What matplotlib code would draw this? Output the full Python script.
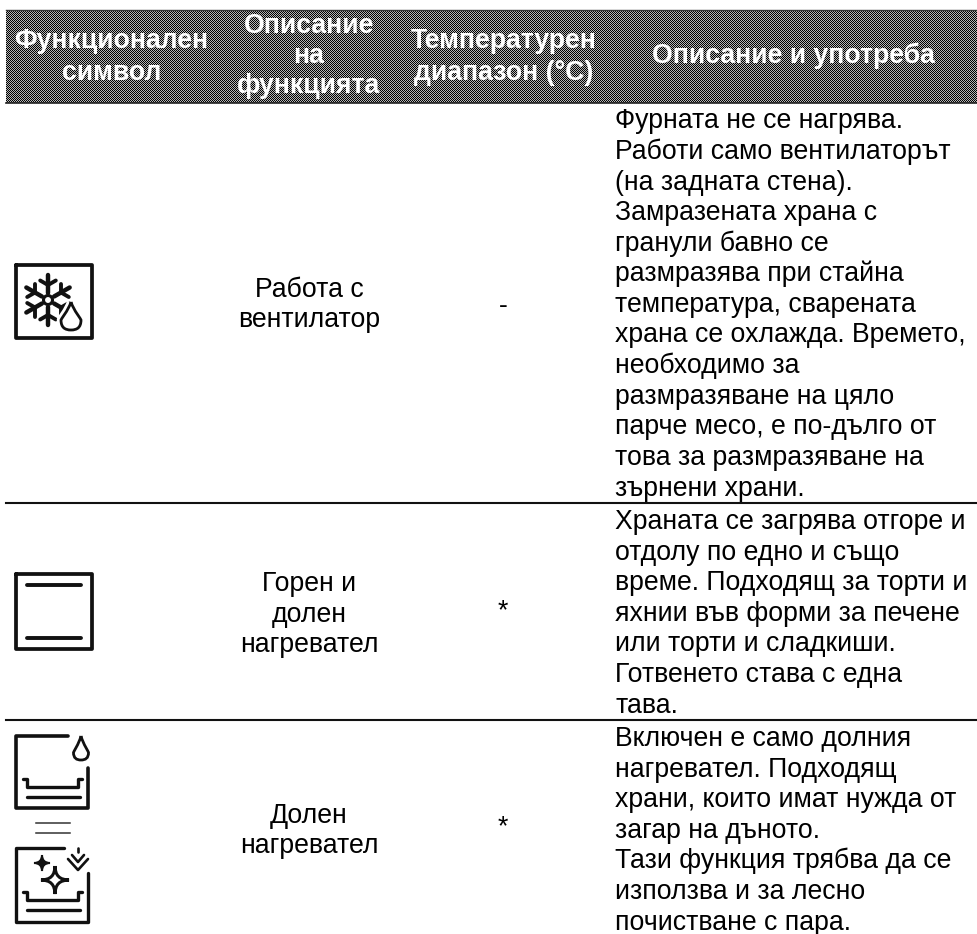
import matplotlib
matplotlib.use('Agg')
import matplotlib.pyplot as plt
from matplotlib.path import Path
from matplotlib.patches import PathPatch, Circle
import numpy as np

plt.rcParams['font.family'] = ['Liberation Sans', 'DejaVu Sans']

# table text
headers = [['Функционален', 'символ'],
           ['Описание', 'на', 'функцията'],
           ['Температурен', 'диапазон (°C)'],
           ['Описание и употреба']]
functions = [['Работа с', 'вентилатор'],
             ['Горен и', 'долен', 'нагревател'],
             ['Долен', 'нагревател']]
temps = ['-', '*', '*']
descriptions = [
    ['Фурната не се нагрява.', 'Работи само вентилаторът', '(на задната стена).',
     'Замразената храна с', 'гранули бавно се', 'размразява при стайна',
     'температура, сварената', 'храна се охлажда. Времето,', 'необходимо за',
     'размразяване на цяло', 'парче месо, е по-дълго от', 'това за размразяване на',
     'зърнени храни.'],
    ['Храната се загрява отгоре и', 'отдолу по едно и също', 'време. Подходящ за торти и',
     'яхнии във форми за печене', 'или торти и сладкиши.', 'Готвенето става с една', 'тава.'],
    ['Включен е само долния', 'нагревател. Подходящ', 'храни, които имат нужда от',
     'загар на дъното.', 'Тази функция трябва да се', 'използва и за лесно',
     'почистване с пара.'],
]

W, H = 978, 934
FS = 19.2
header_x = [111.5, 309, 504, 793.5]
header_y = [[48, 80], [33, 63, 93], [48, 80], [63]]
func_x = 309
func_y = [[297, 327], [591, 622, 652], [823, 853]]
temp_x = 503
temp_y = [313, 618, 834]
desc_x = 615
desc_y = [128.3, 529, 746]
line_h = 30.6
rule_y = [503, 720]

fig = plt.figure(figsize=(W / 100, H / 100), dpi=100)
ax = fig.add_axes([0, 0, 1, 1])

# header band: 1px halftone of the dark fill
yy, xx = np.mgrid[0:93, 0:972]
checker = ((xx + yy) % 2).astype(float)
ax.imshow(checker, cmap='gray', vmin=0, vmax=1.4, extent=[6, 978, 103, 10],
          interpolation='nearest', aspect='auto', zorder=1)
ax.set_xlim(0, W)
ax.set_ylim(H, 0)
ax.axis('off')
ax.plot([6, 978], [9.5, 9.5], color='#333333', lw=1, zorder=2)
ax.plot([6, 978], [103, 103], color='#222222', lw=1.2, zorder=2)

for x, lines, ys in zip(header_x, headers, header_y):
    for s, y in zip(lines, ys):
        ax.text(x, y, s, color='white', fontsize=FS, fontweight='bold',
                ha='center', va='baseline', zorder=3)

for y in rule_y:
    ax.plot([6, 978], [y, y], color='#111111', lw=1.5, zorder=2)

for r in range(3):
    for s, y in zip(functions[r], func_y[r]):
        ax.text(func_x, y, s, fontsize=FS, color='black', ha='center', va='baseline')
    ax.text(temp_x, temp_y[r], temps[r], fontsize=FS, color='black', ha='center', va='baseline')
    for i, s in enumerate(descriptions[r]):
        ax.text(desc_x, desc_y[r] + i * line_h, s, fontsize=FS, color='black',
                ha='left', va='baseline')

ICON = dict(color='#111111', solid_capstyle='round', solid_joinstyle='round', zorder=4)


def poly(xs, ys, lw=2.4):
    ax.plot(xs, ys, lw=lw, **ICON)


def drop(cx, top, bottom, r):
    cy = bottom - r
    verts = [(cx, top), (cx - r * 0.3, top + (cy - top) * 0.5), (cx - r, cy - r * 0.1),
             (cx - r, cy), (cx - r, cy + r * 0.75), (cx - r * 0.6, bottom), (cx, bottom),
             (cx + r * 0.6, bottom), (cx + r, cy + r * 0.75), (cx + r, cy),
             (cx + r, cy - r * 0.1), (cx + r * 0.3, top + (cy - top) * 0.5), (cx, top)]
    codes = [Path.MOVETO] + [Path.CURVE4] * 12
    ax.add_patch(PathPatch(Path(verts, codes), fc='white', ec='white', lw=6, zorder=5))
    ax.add_patch(PathPatch(Path(verts, codes), fc='white', ec='#111111', lw=2, zorder=5))


def sparkle(cx, cy, r, lw=2.2, fill='white'):
    pts = [(cx, cy - r), (cx + r, cy), (cx, cy + r), (cx - r, cy)]
    verts = [pts[0]]
    codes = [Path.MOVETO]
    for p in pts[1:] + pts[:1]:
        verts += [(cx, cy), p]
        codes += [Path.CURVE3, Path.CURVE3]
    ax.add_patch(PathPatch(Path(verts, codes), fc=fill, ec='#111111', lw=lw, zorder=5))


def tray(top, bottom, heater):
    poly([23, 27, 27, 78, 78, 82], [top, top, bottom, bottom, top, top])
    poly([27, 80], [heater, heater])


# icon 1: fan / snowflake
poly([16, 92, 92, 16, 16], [265, 265, 338, 338, 265], lw=2.7)
cx, cy = 48, 300
for a in np.deg2rad([90, 30, -30, -90, 210, 150]):
    dx, dy = np.cos(a), -np.sin(a)
    poly([cx + 7 * dx, cx + 25 * dx], [cy + 7 * dy, cy + 25 * dy], lw=3.2)
    for b in (a + np.pi / 3, a - np.pi / 3):
        bx, by = cx + 15 * dx, cy + 15 * dy
        poly([bx, bx + 9 * np.cos(b)], [by, by - 9 * np.sin(b)], lw=2.8)
ax.add_patch(Circle((cx, cy), 4.5, fc='white', ec='#111111', lw=2.2, zorder=5))
drop(71, 302, 330, 10)

# icon 2: top and bottom heater
poly([16, 92, 92, 16, 16], [574, 574, 649, 649, 574], lw=2.7)
poly([27, 81], [585, 585], lw=2.8)
poly([27, 81], [638, 638], lw=2.8)

# icon 3: bottom heater with drop
poly([68, 16, 16, 88, 88], [736, 736, 808, 808, 768], lw=2.6)
tray(779, 787, 797)
drop(81, 736, 760, 7.5)

# equal sign between the icons
ax.plot([36, 70], [823, 823], color='#333333', lw=1.1, zorder=4)
ax.plot([36, 70], [833, 833], color='#333333', lw=1.1, zorder=4)

# icon 4: steam cleaning
poly([64, 16, 16, 88, 88], [848, 848, 922, 922, 873], lw=2.4)
tray(892, 900, 910)
sparkle(55, 880, 14)
sparkle(42, 863, 8, lw=1.5, fill='#111111')
poly([68, 78, 88], [859, 870, 859], lw=1.9)
poly([72, 78, 84], [855, 862, 855], lw=1.9)
poly([78, 78], [848, 852], lw=1.9)

fig.savefig('out.png', dpi=100)
